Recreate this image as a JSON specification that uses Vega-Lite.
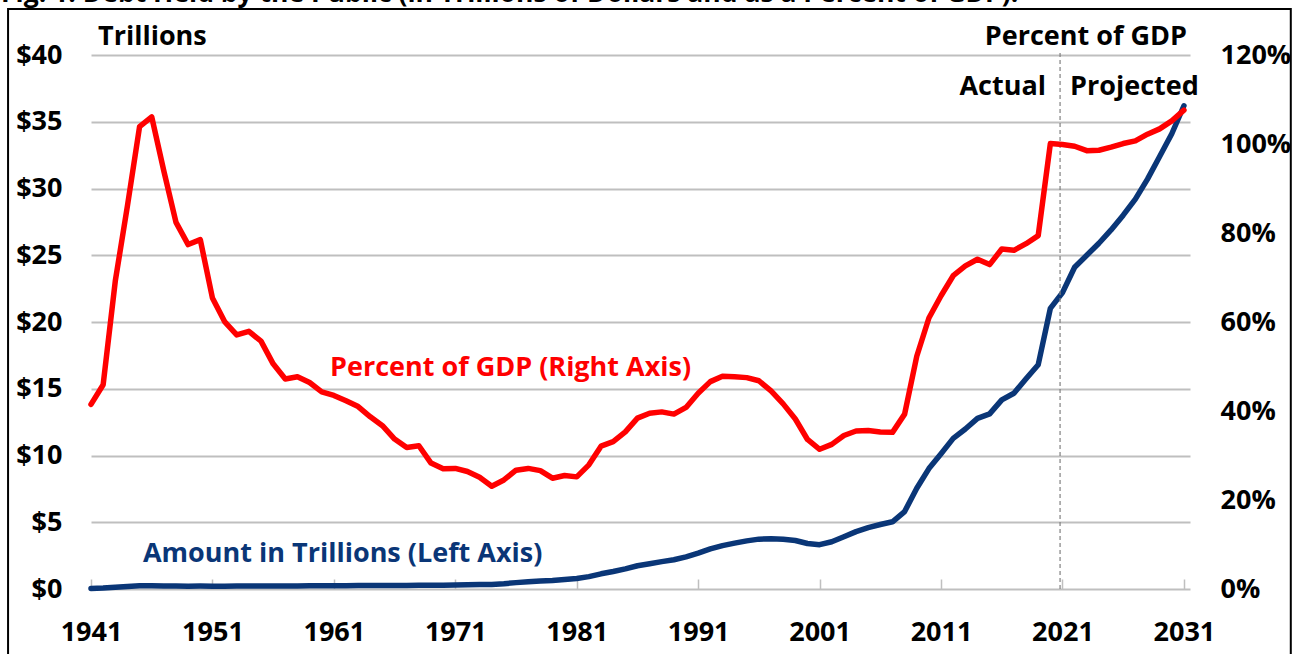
{
  "$schema": "https://vega.github.io/schema/vega-lite/v6.json",
  "width": 1099,
  "height": 534,
  "autosize": {"type": "none"},
  "padding": {"left": 91, "top": 55, "right": 111, "bottom": 65},
  "background": "white",
  "config": {"view": {"stroke": null}, "font": "Open Sans"},
  "title": {
    "text": "Fig. 1. Debt Held by the Public (in Trillions of Dollars and as a Percent of GDP).",
    "anchor": "start",
    "fontSize": 26.5,
    "font": "Open Sans",
    "fontWeight": "bold",
    "color": "black",
    "offset": 4,
    "dy": 25,
    "dx": -6,
    "baseline": "alphabetic"
  },
  "data": {
    "values": [
      {"year": 1941, "debt": 0.044, "pct": 41.5},
      {"year": 1942, "debt": 0.068, "pct": 45.9},
      {"year": 1943, "debt": 0.128, "pct": 69.2},
      {"year": 1944, "debt": 0.185, "pct": 86.1},
      {"year": 1945, "debt": 0.235, "pct": 103.9},
      {"year": 1946, "debt": 0.242, "pct": 106.1},
      {"year": 1947, "debt": 0.224, "pct": 93.9},
      {"year": 1948, "debt": 0.216, "pct": 82.4},
      {"year": 1949, "debt": 0.214, "pct": 77.4},
      {"year": 1950, "debt": 0.219, "pct": 78.5},
      {"year": 1951, "debt": 0.214, "pct": 65.4},
      {"year": 1952, "debt": 0.215, "pct": 60.1},
      {"year": 1953, "debt": 0.218, "pct": 57.1},
      {"year": 1954, "debt": 0.224, "pct": 57.9},
      {"year": 1955, "debt": 0.227, "pct": 55.7},
      {"year": 1956, "debt": 0.222, "pct": 50.6},
      {"year": 1957, "debt": 0.219, "pct": 47.2},
      {"year": 1958, "debt": 0.226, "pct": 47.7},
      {"year": 1959, "debt": 0.235, "pct": 46.4},
      {"year": 1960, "debt": 0.237, "pct": 44.3},
      {"year": 1961, "debt": 0.238, "pct": 43.5},
      {"year": 1962, "debt": 0.248, "pct": 42.3},
      {"year": 1963, "debt": 0.254, "pct": 41.0},
      {"year": 1964, "debt": 0.257, "pct": 38.7},
      {"year": 1965, "debt": 0.261, "pct": 36.7},
      {"year": 1966, "debt": 0.264, "pct": 33.7},
      {"year": 1967, "debt": 0.267, "pct": 31.8},
      {"year": 1968, "debt": 0.290, "pct": 32.2},
      {"year": 1969, "debt": 0.278, "pct": 28.3},
      {"year": 1970, "debt": 0.283, "pct": 27.0},
      {"year": 1971, "debt": 0.303, "pct": 27.1},
      {"year": 1972, "debt": 0.322, "pct": 26.4},
      {"year": 1973, "debt": 0.341, "pct": 25.1},
      {"year": 1974, "debt": 0.344, "pct": 23.1},
      {"year": 1975, "debt": 0.395, "pct": 24.5},
      {"year": 1976, "debt": 0.477, "pct": 26.7},
      {"year": 1977, "debt": 0.549, "pct": 27.1},
      {"year": 1978, "debt": 0.607, "pct": 26.6},
      {"year": 1979, "debt": 0.640, "pct": 24.9},
      {"year": 1980, "debt": 0.712, "pct": 25.5},
      {"year": 1981, "debt": 0.789, "pct": 25.2},
      {"year": 1982, "debt": 0.925, "pct": 27.9},
      {"year": 1983, "debt": 1.137, "pct": 32.1},
      {"year": 1984, "debt": 1.307, "pct": 33.1},
      {"year": 1985, "debt": 1.507, "pct": 35.3},
      {"year": 1986, "debt": 1.741, "pct": 38.4},
      {"year": 1987, "debt": 1.890, "pct": 39.5},
      {"year": 1988, "debt": 2.052, "pct": 39.8},
      {"year": 1989, "debt": 2.191, "pct": 39.3},
      {"year": 1990, "debt": 2.412, "pct": 40.8},
      {"year": 1991, "debt": 2.689, "pct": 44.0},
      {"year": 1992, "debt": 3.000, "pct": 46.6},
      {"year": 1993, "debt": 3.248, "pct": 47.8},
      {"year": 1994, "debt": 3.433, "pct": 47.7},
      {"year": 1995, "debt": 3.604, "pct": 47.5},
      {"year": 1996, "debt": 3.734, "pct": 46.8},
      {"year": 1997, "debt": 3.772, "pct": 44.5},
      {"year": 1998, "debt": 3.721, "pct": 41.6},
      {"year": 1999, "debt": 3.632, "pct": 38.2},
      {"year": 2000, "debt": 3.410, "pct": 33.6},
      {"year": 2001, "debt": 3.320, "pct": 31.4},
      {"year": 2002, "debt": 3.540, "pct": 32.5},
      {"year": 2003, "debt": 3.913, "pct": 34.5},
      {"year": 2004, "debt": 4.296, "pct": 35.5},
      {"year": 2005, "debt": 4.592, "pct": 35.6},
      {"year": 2006, "debt": 4.829, "pct": 35.3},
      {"year": 2007, "debt": 5.035, "pct": 35.2},
      {"year": 2008, "debt": 5.803, "pct": 39.3},
      {"year": 2009, "debt": 7.545, "pct": 52.3},
      {"year": 2010, "debt": 9.019, "pct": 60.9},
      {"year": 2011, "debt": 10.128, "pct": 65.9},
      {"year": 2012, "debt": 11.281, "pct": 70.4},
      {"year": 2013, "debt": 11.983, "pct": 72.6},
      {"year": 2014, "debt": 12.780, "pct": 74.1},
      {"year": 2015, "debt": 13.117, "pct": 72.9},
      {"year": 2016, "debt": 14.168, "pct": 76.4},
      {"year": 2017, "debt": 14.665, "pct": 76.1},
      {"year": 2018, "debt": 15.750, "pct": 77.6},
      {"year": 2019, "debt": 16.801, "pct": 79.4},
      {"year": 2020, "debt": 21.017, "pct": 100.1},
      {"year": 2021, "debt": 22.2, "pct": 99.9},
      {"year": 2022, "debt": 24.1, "pct": 99.5},
      {"year": 2023, "debt": 25.0, "pct": 98.5},
      {"year": 2024, "debt": 25.9, "pct": 98.6},
      {"year": 2025, "debt": 26.9, "pct": 99.3},
      {"year": 2026, "debt": 28.0, "pct": 100.1},
      {"year": 2027, "debt": 29.2, "pct": 100.7},
      {"year": 2028, "debt": 30.7, "pct": 102.2},
      {"year": 2029, "debt": 32.4, "pct": 103.4},
      {"year": 2030, "debt": 34.1, "pct": 105.2},
      {"year": 2031, "debt": 36.2, "pct": 107.6}
    ]
  },
  "layer": [
    {
      "layer": [
        {
          "mark": {"type": "line", "color": "#0a3677", "strokeWidth": 5.5, "strokeJoin": "round", "strokeCap": "round"},
          "encoding": {
            "x": {
              "field": "year", "type": "quantitative",
              "scale": {"domain": [1941, 2031.5], "nice": false, "zero": false},
              "axis": {
                "title": null,
                "values": [1941, 1951, 1961, 1971, 1981, 1991, 2001, 2011, 2021, 2031],
                "format": "d",
                "grid": false,
                "domain": false,
                "ticks": true,
                "tickSize": -10,
                "tickColor": "#bfbfbf",
                "tickWidth": 1.5,
                "labelPadding": 40,
                "labelFontSize": 27,
                "labelFont": "Open Sans",
                "labelFontWeight": "bold",
                "labelColor": "black",
                "labelFlush": false,
                "labelOverlap": false,
                "labelBound": false
              }
            },
            "y": {
              "field": "debt", "type": "quantitative",
              "scale": {"domain": [0, 40], "nice": false},
              "axis": {
                "title": null,
                "values": [0, 5, 10, 15, 20, 25, 30, 35, 40],
                "labelExpr": "'$' + datum.value",
                "grid": true,
                "gridColor": "#bfbfbf",
                "gridWidth": 2,
                "domain": false,
                "ticks": false,
                "labelPadding": 29,
                "labelFontSize": 27,
                "labelFont": "Open Sans",
                "labelFontWeight": "bold",
                "labelColor": "black",
                "labelOverlap": false,
                "labelFlush": false,
                "labelBound": false
              }
            }
          }
        },
        {
          "data": {"values": [{}]},
          "mark": {"type": "rect", "filled": false, "stroke": "black", "strokeWidth": 2},
          "encoding": {
            "x": {"datum": 1934.17, "type": "quantitative"},
            "x2": {"datum": 2039.8},
            "y": {"datum": 43.45, "type": "quantitative"},
            "y2": {"datum": -6}
          }
        },
        {
          "data": {"values": [{}]},
          "mark": {"type": "rule", "color": "#808080", "strokeWidth": 1.2, "strokeDash": [4, 3]},
          "encoding": {
            "x": {"datum": 2020.8, "type": "quantitative"},
            "y": {"datum": 0, "type": "quantitative"},
            "y2": {"datum": 40.25}
          }
        },
        {
          "data": {"values": [{}]},
          "mark": {"type": "text", "align": "left", "baseline": "middle", "fontSize": 27, "fontWeight": "bold", "font": "Open Sans", "color": "black"},
          "encoding": {
            "x": {"datum": 1941.58, "type": "quantitative"},
            "y": {"datum": 41.35, "type": "quantitative"},
            "text": {"value": "Trillions"}
          }
        },
        {
          "data": {"values": [{}]},
          "mark": {"type": "text", "align": "right", "baseline": "middle", "fontSize": 27, "fontWeight": "bold", "font": "Open Sans", "color": "black"},
          "encoding": {
            "x": {"datum": 2031.25, "type": "quantitative"},
            "y": {"datum": 41.35, "type": "quantitative"},
            "text": {"value": "Percent of GDP"}
          }
        },
        {
          "data": {"values": [{}]},
          "mark": {"type": "text", "align": "right", "baseline": "middle", "fontSize": 27, "fontWeight": "bold", "font": "Open Sans", "color": "black"},
          "encoding": {
            "x": {"datum": 2019.64, "type": "quantitative"},
            "y": {"datum": 37.6, "type": "quantitative"},
            "text": {"value": "Actual"}
          }
        },
        {
          "data": {"values": [{}]},
          "mark": {"type": "text", "align": "left", "baseline": "middle", "fontSize": 27, "fontWeight": "bold", "font": "Open Sans", "color": "black"},
          "encoding": {
            "x": {"datum": 2021.62, "type": "quantitative"},
            "y": {"datum": 37.6, "type": "quantitative"},
            "text": {"value": "Projected"}
          }
        },
        {
          "data": {"values": [{}]},
          "mark": {"type": "text", "align": "left", "baseline": "middle", "fontSize": 27, "fontWeight": "bold", "font": "Open Sans", "color": "#ff0000"},
          "encoding": {
            "x": {"datum": 1960.68, "type": "quantitative"},
            "y": {"datum": 16.55, "type": "quantitative"},
            "text": {"value": "Percent of GDP (Right Axis)"}
          }
        },
        {
          "data": {"values": [{}]},
          "mark": {"type": "text", "align": "left", "baseline": "middle", "fontSize": 27, "fontWeight": "bold", "font": "Open Sans", "color": "#0a3677"},
          "encoding": {
            "x": {"datum": 1945.28, "type": "quantitative"},
            "y": {"datum": 2.62, "type": "quantitative"},
            "text": {"value": "Amount in Trillions (Left Axis)"}
          }
        }
      ]
    },
    {
      "mark": {"type": "line", "color": "#ff0000", "strokeWidth": 5.5, "strokeJoin": "round", "strokeCap": "round"},
      "encoding": {
        "x": {"field": "year", "type": "quantitative"},
        "y": {
          "field": "pct", "type": "quantitative",
          "scale": {"domain": [0, 120], "nice": false},
          "axis": {
            "orient": "right",
            "title": null,
            "values": [0, 20, 40, 60, 80, 100, 120],
            "labelExpr": "datum.value + '%'",
            "grid": false,
            "domain": false,
            "ticks": false,
            "labelPadding": 30,
            "labelFontSize": 27,
            "labelFont": "Open Sans",
            "labelFontWeight": "bold",
            "labelColor": "black",
            "labelOverlap": false,
            "labelFlush": false,
            "labelBound": false
          }
        }
      }
    }
  ],
  "resolve": {"scale": {"y": "independent"}}
}
